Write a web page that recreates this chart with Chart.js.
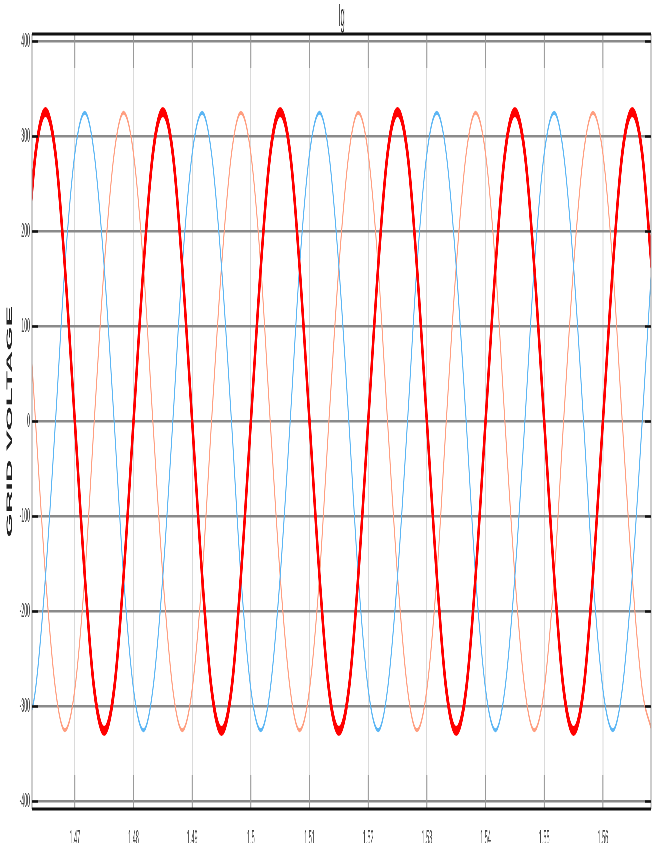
<!DOCTYPE html>
<html>
<head>
<meta charset="utf-8">
<title>Ig</title>
<script src="https://cdn.jsdelivr.net/npm/chart.js@4.4.1/dist/chart.umd.min.js"></script>
<style>
  html, body { margin: 0; padding: 0; background: #fff; overflow: hidden; }
  /* the original figure is squeezed sideways, so draw wide and squash it */
  #wrap { width: 2660px; height: 843px; transform: scaleX(0.25); transform-origin: 0 0; }
</style>
</head>
<body>
<div id="wrap"><canvas id="chart"></canvas></div>
<script>
// sample times (s)
const time = [
    1.4617, 1.4633, 1.4650, 1.4667, 1.4683, 1.4700, 1.4717, 1.4733, 1.4750, 1.4767, 1.4783, 1.4800,
    1.4817, 1.4833, 1.4850, 1.4867, 1.4883, 1.4900, 1.4917, 1.4933, 1.4950, 1.4967, 1.4983, 1.5000,
    1.5017, 1.5033, 1.5050, 1.5067, 1.5083, 1.5100, 1.5117, 1.5133, 1.5150, 1.5167, 1.5183, 1.5200,
    1.5217, 1.5233, 1.5250, 1.5267, 1.5283, 1.5300, 1.5317, 1.5333, 1.5350, 1.5367, 1.5383, 1.5400,
    1.5417, 1.5433, 1.5450, 1.5467, 1.5483, 1.5500, 1.5517, 1.5533, 1.5550, 1.5567, 1.5583, 1.5600,
    1.5617, 1.5633, 1.5650, 1.5667, 1.5683
];

// grid voltage, phase A (thick red)
const phaseA = [
    163, 282, 326, 282, 163, 0, -163, -282, -326, -282, -163, 0,
    163, 282, 326, 282, 163, 0, -163, -282, -326, -282, -163, 0,
    163, 282, 326, 282, 163, 0, -163, -282, -326, -282, -163, 0,
    163, 282, 326, 282, 163, 0, -163, -282, -326, -282, -163, 0,
    163, 282, 326, 282, 163, 0, -163, -282, -326, -282, -163, 0,
    163, 282, 326, 282, 163
];

// phase B (light blue)
const phaseB = [
    -325, -282, -163, 0, 163, 282, 325, 282, 163, 0, -163, -282,
    -325, -282, -163, 0, 163, 282, 325, 282, 163, 0, -163, -282,
    -325, -282, -163, 0, 163, 282, 325, 282, 163, 0, -163, -282,
    -325, -282, -163, 0, 163, 282, 325, 282, 163, 0, -163, -282,
    -325, -282, -163, 0, 163, 282, 325, 282, 163, 0, -163, -282,
    -325, -282, -163, 0, 163
];

// phase C (salmon)
const phaseC = [
    163, 0, -163, -282, -325, -282, -163, 0, 163, 282, 325, 282,
    163, 0, -163, -282, -325, -282, -163, 0, 163, 282, 325, 282,
    163, 0, -163, -282, -325, -282, -163, 0, 163, 282, 325, 282,
    163, 0, -163, -282, -325, -282, -163, 0, 163, 282, 325, 282,
    163, 0, -163, -282, -325, -282, -163, 0, 163, 282, 325, 282,
    163, 0, -163, -282, -325
];

const xTicks = [1.47, 1.48, 1.49, 1.5, 1.51, 1.52, 1.53, 1.54, 1.55, 1.56];
const xTickLabels = ['1.47', '1.48', '1.49', '1.5', '1.51', '1.52', '1.53', '1.54', '1.55', '1.56'];
const yTicks = [-400, -300, -200, -100, 0, 100, 200, 300, 400];
const yTickLabels = ['-400', '-300', '-200', '-100', '0', '100', '200', '300', '400'];

const FONT = '"Liberation Sans", Arial, sans-serif';

// frame, inner tick marks and the title, matlab style
const axesFrame = {
    id: 'axesFrame',
    afterDraw(chart) {
        const { ctx, chartArea: a, scales: { x, y } } = chart;
        ctx.save();

        ctx.strokeStyle = '#9a9a9a';
        ctx.lineWidth = 4;
        xTicks.forEach(v => {
            const px = x.getPixelForValue(v);
            ctx.beginPath();
            ctx.moveTo(px, a.top);
            ctx.lineTo(px, a.top + 34);
            ctx.moveTo(px, a.bottom);
            ctx.lineTo(px, a.bottom - 34);
            ctx.stroke();
        });
        ctx.beginPath();
        ctx.moveTo(a.left, a.top);
        ctx.lineTo(a.left, a.bottom);
        ctx.moveTo(a.right, a.top);
        ctx.lineTo(a.right, a.bottom);
        ctx.stroke();

        ctx.strokeStyle = '#111';
        ctx.lineWidth = 2.5;
        yTicks.forEach(v => {
            const py = y.getPixelForValue(v);
            ctx.beginPath();
            ctx.moveTo(a.left, py);
            ctx.lineTo(a.left + 24, py);
            ctx.moveTo(a.right, py);
            ctx.lineTo(a.right - 24, py);
            ctx.stroke();
        });

        ctx.lineWidth = 3;
        ctx.beginPath();
        ctx.moveTo(a.left, a.top);
        ctx.lineTo(a.right, a.top);
        ctx.moveTo(a.left, a.bottom);
        ctx.lineTo(a.right, a.bottom);
        ctx.stroke();

        ctx.fillStyle = '#333';
        ctx.font = '32px ' + FONT;
        ctx.textAlign = 'center';
        ctx.textBaseline = 'alphabetic';
        ctx.fillText('Ig', (a.left + a.right) / 2, 26);
        ctx.restore();
    }
};

const series = [
    { label: 'Va', values: phaseA, color: '#ff0000', width: 10 },
    { label: 'Vb', values: phaseB, color: '#5cb6f4', width: 4 },
    { label: 'Vc', values: phaseC, color: '#ff9e80', width: 4 }
];

new Chart(document.getElementById('chart'), {
    type: 'line',
    data: {
        datasets: series.map(s => ({
            label: s.label,
            data: time.map((t, i) => ({ x: t, y: s.values[i] })),
            borderColor: s.color,
            borderWidth: s.width,
            pointRadius: 0,
            cubicInterpolationMode: 'monotone',
            fill: false,
            clip: 0
        }))
    },
    options: {
        responsive: true,
        maintainAspectRatio: false,
        animation: false,
        layout: { padding: { top: 34, right: 56, bottom: 0, left: 0 } },
        plugins: { legend: { display: false }, tooltip: { enabled: false } },
        scales: {
            x: {
                type: 'linear',
                min: 1.4627,
                max: 1.5682,
                afterBuildTicks: s => { s.ticks = xTicks.map(v => ({ value: v })); },
                afterFit: s => { s.height = 34; },
                grid: { color: '#dadada', lineWidth: 4, drawTicks: false },
                border: { display: false },
                ticks: {
                    padding: 17,
                    color: '#444',
                    maxRotation: 0,
                    autoSkip: false,
                    font: { family: FONT, size: 22 },
                    callback: v => xTickLabels[xTicks.indexOf(v)]
                }
            },
            y: {
                type: 'linear',
                min: -408,
                max: 408,
                afterBuildTicks: s => { s.ticks = yTicks.map(v => ({ value: v })); },
                afterFit: s => { s.width = 128; },
                grid: { color: '#8a8a8a', lineWidth: 2.5, drawTicks: false },
                border: { display: false },
                ticks: {
                    padding: 8,
                    color: '#444',
                    autoSkip: false,
                    font: { family: FONT, size: 21 },
                    callback: v => yTickLabels[yTicks.indexOf(v)]
                },
                title: {
                    display: true,
                    text: 'GRID VOLTAGE',
                    color: '#222',
                    font: { family: FONT, size: 31, weight: 'bold' },
                    padding: { top: 21, bottom: 0 }
                }
            }
        }
    },
    plugins: [axesFrame]
});
</script>
</body>
</html>
